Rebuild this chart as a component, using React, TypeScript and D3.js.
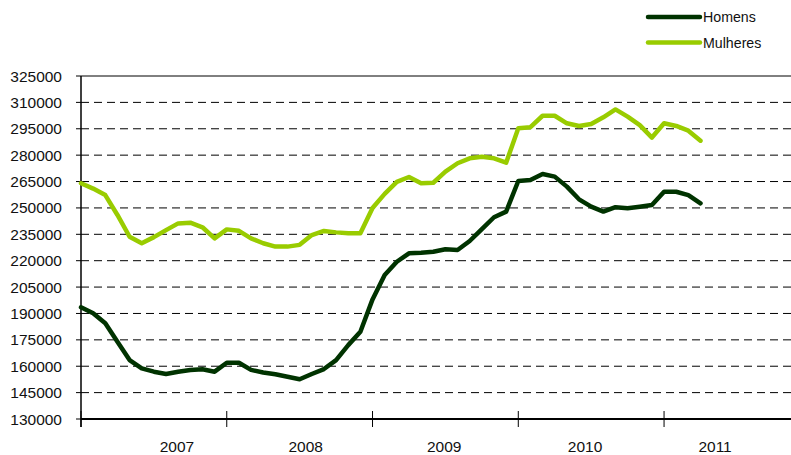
import React from "react";
import * as d3 from "d3";

// monthly values, Jan 2007 .. Apr 2011
const homens = [193500, 190100, 184400, 173900, 163500, 158800, 156900, 155600, 156900, 157900, 158300, 156900,
    162000, 162000, 157900, 156400, 155400, 154000, 152600, 155600, 158400, 163500, 172000, 179600,
    198000, 211900, 219400, 224200, 224500, 225100, 226500, 226100, 231200, 238000, 244700, 247900,
    265300, 265900, 269300, 267800, 262100, 254900, 250700, 247900, 250400, 249800, 250700, 251700,
    259200, 259200, 257300, 252600];
const mulheres = [264000, 261000, 257300, 246000, 233600, 229900, 233400, 237400, 241200, 241600, 239000, 232700,
    237800, 237000, 232700, 229900, 228000, 228000, 229000, 234600, 236900, 236100, 235600, 235600,
    250000, 258000, 264800, 267600, 264000, 264300, 270600, 275400, 278200, 279100, 278200, 275700,
    295300, 295900, 302400, 302400, 298100, 296600, 297700, 301500, 306000, 301900, 297100, 290000,
    298100, 296600, 293900, 288200];
const yTicks = d3.range(130000, 325001, 15000);
const yearTicks = [0, 12, 24, 36, 48];
const yearLabels = ["2007", "2008", "2009", "2010", "2011"];
const yearLabelAt = [7.9, 18.5, 29.9, 41.5, 52.2];
const seriesNames = ["Homens", "Mulheres"];
const seriesColors = ["#003300", "#99cc00"];

const App = () => {
    const width = 791;
    const height = 455;
    const left = 81, right = 791, top = 76, bottom = 419;
    const font = "Arial, 'Liberation Sans', sans-serif";

    const x = d3.scaleLinear().domain([0, 58.45]).range([left, right]);
    const y = d3.scaleLinear().domain([130000, 325000]).range([bottom, top]);
    const line = d3.line<number>()
        .x((d, i) => x(i))
        .y(d => y(d));

    return (
        <svg width={width} height={height} style={{ position: "absolute", left: 0, top: 0 }}
            fontFamily={font}>
            {/* grid + y labels */}
            {yTicks.map(t => (
                <g key={t}>
                    <line x1={left - 5} x2={left} y1={y(t)} y2={y(t)} stroke="#000" strokeWidth={1} />
                    {t > 130000 && t < 325000 &&
                        <line x1={left} x2={right} y1={y(t)} y2={y(t)} stroke="#000"
                            strokeWidth={1} strokeDasharray="8,5" />}
                    <text x={62} y={y(t) + 5.5} textAnchor="end" fontSize={15.5} fill="#111">{t}</text>
                </g>
            ))}
            <line x1={left} x2={right} y1={top} y2={top} stroke="#000" strokeWidth={1} />
            <line x1={left} x2={left} y1={top} y2={bottom + 8} stroke="#000" strokeWidth={1.5} />
            <line x1={left} x2={right} y1={bottom} y2={bottom} stroke="#000" strokeWidth={2} />
            {yearTicks.map(t => (
                <line key={t} x1={x(t)} x2={x(t)} y1={bottom - 8} y2={bottom + 8} stroke="#000" strokeWidth={1} />
            ))}
            {yearLabels.map((l, i) => (
                <text key={l} x={x(yearLabelAt[i])} y={452} textAnchor="middle" fontSize={15.5} fill="#111">{l}</text>
            ))}

            {[homens, mulheres].map((s, i) => (
                <path key={seriesNames[i]} d={line(s) || ""} fill="none" stroke={seriesColors[i]}
                    strokeWidth={4.5} strokeLinejoin="round" strokeLinecap="round" />
            ))}

            {/* legend */}
            {seriesNames.map((n, i) => (
                <g key={n} transform={`translate(648,${17 + i * 25.5})`}>
                    <line x1={0} x2={52} y1={0} y2={0} stroke={seriesColors[i]} strokeWidth={4.5} strokeLinecap="round" />
                    <text x={55} y={5} fontSize={14.2} fill="#111">{n}</text>
                </g>
            ))}
        </svg>
    );
};

export default App;
